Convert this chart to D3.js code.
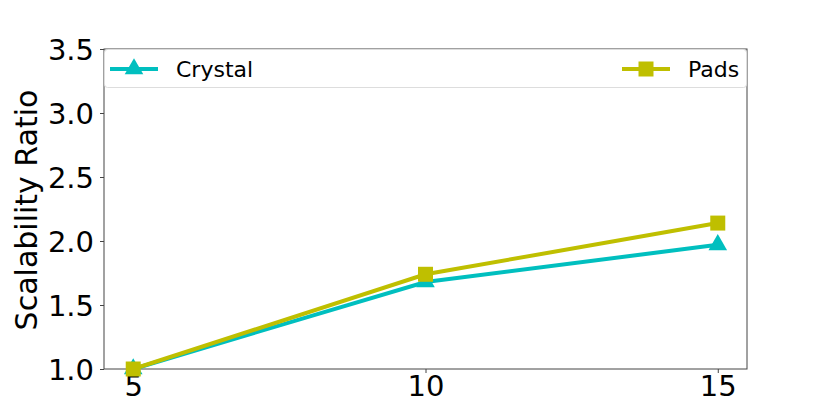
<!DOCTYPE html>
<html>
<head>
  <script src="https://d3js.org/d3.v7.min.js"></script>
  <style>
    body { margin: 0; background: #fff; font-family: "DejaVu Sans", sans-serif; }
    .axis text { font-size: 29px; font-family: "DejaVu Sans", sans-serif; fill: #000; }
    .axis path, .axis line { stroke: #444; }
  </style>
</head>
<body>
  <div id="chart"></div>
  <script>
    // chart data
    const xValues = [5, 10, 15];
    const crystal = [1.0, 1.68, 1.97];
    const pads = [1.0, 1.74, 2.14];
    const yTicks = [1.0, 1.5, 2.0, 2.5, 3.0, 3.5];
    const seriesNames = ["Crystal", "Pads"];

    const W = 830, H = 415;
    const margin = {top: 49, right: 83, bottom: 46, left: 104};
    const width = W - margin.left - margin.right;
    const height = H - margin.top - margin.bottom;

    const svg = d3.select("#chart").append("svg")
      .attr("width", W).attr("height", H);
    const g = svg.append("g").attr("transform", `translate(${margin.left},${margin.top})`);

    const x = d3.scaleLinear().domain([4.5, 15.5]).range([0, width]);
    const y = d3.scaleLinear().domain([1.0, 3.5]).range([height, 0]);

    // frame
    g.append("rect").attr("width", width).attr("height", height)
      .attr("fill", "none").attr("stroke", "#444").attr("stroke-width", 1);

    g.append("g").attr("class", "axis")
      .attr("transform", `translate(0,${height})`)
      .call(d3.axisBottom(x).tickValues(xValues).tickSize(4).tickPadding(2).tickFormat(d3.format("d")))
      .call(a => a.select(".domain").remove());

    g.append("g").attr("class", "axis")
      .call(d3.axisLeft(y).tickValues(yTicks).tickSize(4).tickPadding(6).tickFormat(d3.format(".1f")))
      .call(a => a.select(".domain").remove())
      .selectAll("text").attr("dy", "0.36em");

    svg.append("text")
      .attr("transform", `translate(37,${margin.top + height / 2 + 1}) rotate(-90)`)
      .attr("text-anchor", "middle")
      .style("font-size", "30px")
      .text("Scalability Ratio");

    const colors = ["#00bfbf", "#bfbf00"];
    const series = [crystal, pads];
    const line = d3.line().x((d, i) => x(xValues[i])).y(d => y(d));
    const tri = d3.symbol().type(d3.symbolTriangle).size(150);
    const sq = d3.symbol().type(d3.symbolSquare).size(225);

    series.forEach((vals, s) => {
      g.append("path").datum(vals).attr("d", line)
        .attr("fill", "none").attr("stroke", colors[s]).attr("stroke-width", 4);
      g.selectAll(".m" + s).data(vals).enter().append("path")
        .attr("class", "m" + s)
        .attr("transform", (d, i) => `translate(${x(xValues[i])},${y(d)})`)
        .attr("d", s === 0 ? tri : sq)
        .attr("fill", colors[s]);
    });

    // legend (expanded across top)
    const lg = g.append("g");
    lg.append("rect").attr("x", 0.5).attr("y", 0.5).attr("width", width - 1).attr("height", 38)
      .attr("rx", 3).attr("fill", "#fff").attr("fill-opacity", 0.8).attr("stroke", "#ddd");
    const items = [{x: 6}, {x: 518}];
    items.forEach((it, s) => {
      const cy = 20;
      lg.append("line").attr("x1", it.x).attr("x2", it.x + 48).attr("y1", cy).attr("y2", cy)
        .attr("stroke", colors[s]).attr("stroke-width", 4);
      lg.append("path").attr("transform", `translate(${it.x + 24},${cy})`)
        .attr("d", s === 0 ? tri : sq).attr("fill", colors[s]);
      lg.append("text").attr("x", it.x + 66).attr("y", cy).attr("dy", "0.35em")
        .style("font-size", "22px").text(seriesNames[s]);
    });
  </script>
</body>
</html>
